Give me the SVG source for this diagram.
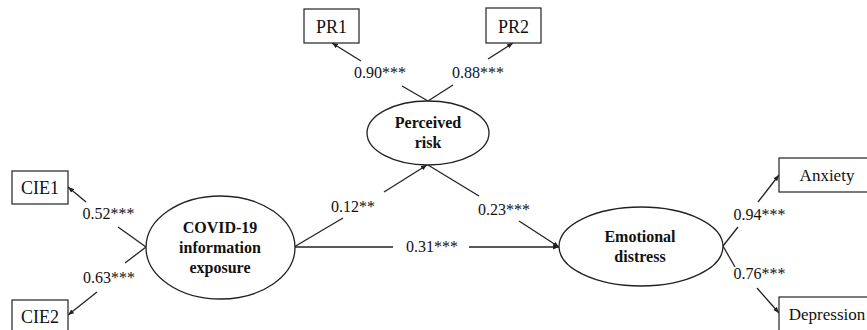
<svg xmlns="http://www.w3.org/2000/svg" width="867" height="330" viewBox="0 0 867 330">
<style>
.box{fill:#fff;stroke:#222;stroke-width:1.2}
.ell{fill:#fff;stroke:#222;stroke-width:1.3}
.ln{stroke:#222;stroke-width:1.3;fill:none}
.arr{stroke:#222;stroke-width:1.3;fill:none;marker-end:url(#ah)}
.t{font-family:"Liberation Serif","Times New Roman",serif;fill:#111}
.lbl{font-size:16px;text-anchor:middle}
.bx{font-size:18px;text-anchor:middle}
.bx2{font-size:17px;text-anchor:middle}
.lat{font-size:16px;font-weight:bold;text-anchor:middle}
</style>
<defs>
<marker id="ah" viewBox="0 0 10 10" refX="10" refY="5" markerWidth="6" markerHeight="6" orient="auto" markerUnits="userSpaceOnUse">
<path d="M0,1 L10,5 L0,9 z" fill="#222"/>
</marker>
</defs>
<rect width="867" height="330" fill="#fff"/>
<g id="connectors">
<line class="ln" x1="146" y1="247" x2="118" y2="227"/>
<line class="arr" x1="86" y1="202" x2="68" y2="187"/>
<line class="ln" x1="146" y1="247" x2="125" y2="263"/>
<line class="arr" x1="97" y1="292" x2="68" y2="315"/>
<line class="ln" x1="428" y1="101" x2="402" y2="86"/>
<line class="arr" x1="361" y1="61" x2="332" y2="43"/>
<line class="ln" x1="428" y1="101" x2="453" y2="85"/>
<line class="arr" x1="488" y1="59" x2="513" y2="43"/>
<line class="ln" x1="294" y1="247" x2="343" y2="218"/>
<line class="arr" x1="384" y1="192" x2="427" y2="165"/>
<line class="ln" x1="428" y1="165" x2="479" y2="196"/>
<line class="arr" x1="519" y1="221" x2="559" y2="247"/>
<line class="ln" x1="294" y1="247" x2="393" y2="247"/>
<line class="arr" x1="469" y1="247" x2="559" y2="247"/>
<line class="ln" x1="723" y1="246" x2="738" y2="227"/>
<line class="arr" x1="758" y1="202" x2="779" y2="175"/>
<line class="ln" x1="723" y1="246" x2="735" y2="267"/>
<line class="arr" x1="757" y1="288" x2="779" y2="313"/>
<text class="t lbl" x="108.5" y="219">0.52***</text>
<text class="t lbl" x="109" y="283">0.63***</text>
<text class="t lbl" x="380" y="78">0.90***</text>
<text class="t lbl" x="478" y="78">0.88***</text>
<text class="t lbl" x="353" y="212">0.12**</text>
<text class="t lbl" x="504" y="215">0.23***</text>
<text class="t lbl" x="432" y="252">0.31***</text>
<text class="t lbl" x="759.5" y="220">0.94***</text>
<text class="t lbl" x="759.5" y="279">0.76***</text>
</g>
<g id="CIE1"><rect class="box" x="12" y="171" width="56" height="33"/><text class="t bx" x="40" y="194">CIE1</text></g>
<g id="CIE2"><rect class="box" x="12" y="300" width="56" height="33"/><text class="t bx" x="40" y="323">CIE2</text></g>
<g id="PR1"><rect class="box" x="304" y="9" width="55" height="34"/><text class="t bx" x="331.5" y="33">PR1</text></g>
<g id="PR2"><rect class="box" x="486" y="8" width="55" height="35"/><text class="t bx" x="513.5" y="33">PR2</text></g>
<g id="Anxiety"><rect class="box" x="779" y="158" width="90" height="34"/><text class="t bx2" x="827" y="181">Anxiety</text></g>
<g id="Depression"><rect class="box" x="779" y="297" width="90" height="36"/><text class="t bx2" x="827" y="320">Depression</text></g>
<g id="COVID"><ellipse class="ell" cx="220.5" cy="247.5" rx="74.5" ry="51.5"/>
<text class="t lat" x="220" y="233">COVID-19</text>
<text class="t lat" x="220" y="253">information</text>
<text class="t lat" x="220" y="273">exposure</text></g>
<g id="PerceivedRisk"><ellipse class="ell" cx="428" cy="133" rx="61" ry="32"/>
<text class="t lat" x="428" y="128">Perceived</text>
<text class="t lat" x="428" y="148">risk</text></g>
<g id="EmotionalDistress"><ellipse class="ell" cx="641" cy="246.5" rx="82" ry="39.5"/>
<text class="t lat" x="640" y="242">Emotional</text>
<text class="t lat" x="640" y="262">distress</text></g>
</svg>
